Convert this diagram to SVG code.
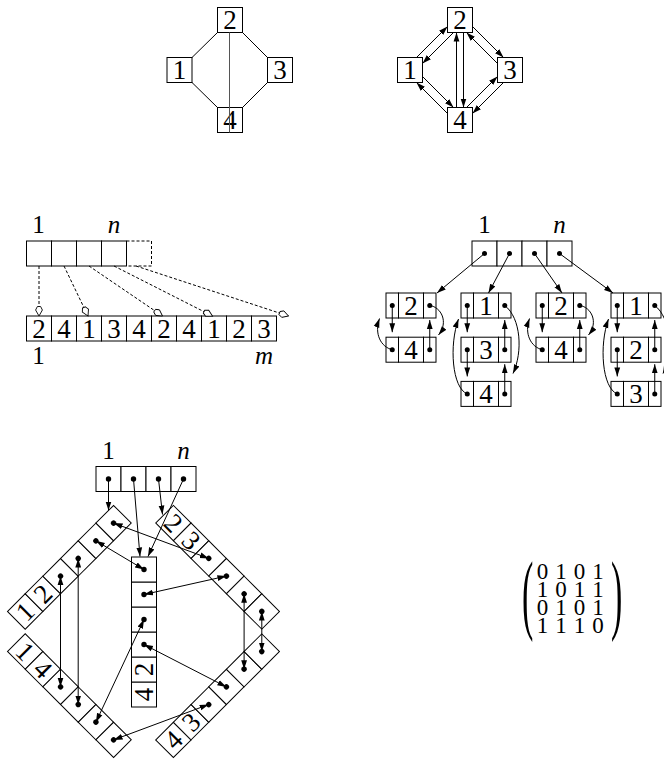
<svg xmlns="http://www.w3.org/2000/svg" xmlns:xlink="http://www.w3.org/1999/xlink" width="664" height="761" viewBox="0 0 664 761">
<style>
.b{fill:#fff;stroke:#000;stroke-width:1}
.t{font-family:"Liberation Serif",serif;font-size:27px;text-anchor:middle;fill:#000}
.lb{font-family:"Liberation Serif",serif;font-size:25px;text-anchor:middle;fill:#000}
.i{font-style:italic}
.l{fill:none;stroke:#000;stroke-width:1}
.a{marker-end:url(#ah)}
.d2{marker-start:url(#ah);marker-end:url(#ah)}
.ds{stroke-dasharray:3 2}
.h{marker-end:url(#ho)}
.p{fill:#000}
.m{font-family:"Liberation Serif",serif;font-size:23px;text-anchor:middle;fill:#000}
.pr{font-family:"Liberation Serif",serif;font-size:34px;fill:#000}
</style>
<defs>
<marker id="ah" markerUnits="userSpaceOnUse" viewBox="0 -3.5 9.5 7" markerWidth="9.5" markerHeight="7" refX="9" refY="0" orient="auto-start-reverse"><path d="M0,-2.9 L9,0 L0,2.9 Z" fill="#000"/></marker>
<marker id="ho" markerUnits="userSpaceOnUse" viewBox="-1 -4.5 12 9" markerWidth="12" markerHeight="9" refX="9.5" refY="0" orient="auto"><path d="M0,-1.6 L3.5,-3.4 L9.5,0 L3.5,3.4 L0,1.6 Z" fill="#fff" stroke="#000" stroke-width="0.9"/></marker>
<g id="strip6">
<rect class="b" x="0" y="0" width="25" height="25"/><rect class="b" x="25" y="0" width="25" height="25"/><rect class="b" x="50" y="0" width="25" height="25"/><rect class="b" x="75" y="0" width="25" height="25"/><rect class="b" x="100" y="0" width="25" height="25"/><rect class="b" x="125" y="0" width="25" height="25"/>
<circle class="p" cx="62.5" cy="12.5" r="2.7"/><circle class="p" cx="87.5" cy="12.5" r="2.7"/><circle class="p" cx="112.5" cy="12.5" r="2.7"/><circle class="p" cx="137.5" cy="12.5" r="2.7"/>
</g>
<g id="lnode">
<rect class="b" x="0" y="0" width="12.5" height="25"/><rect class="b" x="12.5" y="0" width="25" height="25"/><rect class="b" x="37.5" y="0" width="12.5" height="25"/>
<circle class="p" cx="6.25" cy="12.5" r="2.5"/><circle class="p" cx="43.75" cy="12.5" r="2.5"/>
</g>
</defs>

<!-- Undirected graph -->
<g id="ug-n1"><rect class="b" x="167" y="57.5" width="25" height="25"/><text class="t" x="179.5" y="79">1</text></g>
<g id="ug-n2"><rect class="b" x="217.5" y="7.5" width="25" height="25"/><text class="t" x="230" y="29">2</text></g>
<g id="ug-n3"><rect class="b" x="267.5" y="57.5" width="25" height="25"/><text class="t" x="280" y="79">3</text></g>
<g id="ug-n4"><rect class="b" x="217.5" y="107.5" width="25" height="25"/><text class="t" x="230" y="129">4</text></g>

<!-- Directed graph -->
<g id="dg-n1"><rect class="b" x="397.5" y="57.5" width="25" height="25"/><text class="t" x="410" y="79">1</text></g>
<g id="dg-n2"><rect class="b" x="447.5" y="7.5" width="25" height="25"/><text class="t" x="460" y="29">2</text></g>
<g id="dg-n3"><rect class="b" x="497.5" y="57.5" width="25" height="25"/><text class="t" x="510" y="79">3</text></g>
<g id="dg-n4"><rect class="b" x="447.5" y="107.5" width="25" height="25"/><text class="t" x="460" y="129">4</text></g>

<!-- Adjacency array -->
<g id="aa-index">
<rect class="b" x="26.5" y="241" width="25" height="25"/><rect class="b" x="51.5" y="241" width="25" height="25"/><rect class="b" x="76.5" y="241" width="25" height="25"/><rect class="b" x="101.5" y="241" width="25" height="25"/>
<path class="l ds" d="M126.5,241 H151.5 V266 H126.5"/>
<text class="lb" x="38.5" y="233">1</text><text class="lb i" x="114" y="233">n</text>
</g>
<g id="aa-list">
<rect class="b" x="26.5" y="316" width="25" height="25"/><rect class="b" x="51.5" y="316" width="25" height="25"/><rect class="b" x="76.5" y="316" width="25" height="25"/><rect class="b" x="101.5" y="316" width="25" height="25"/><rect class="b" x="126.5" y="316" width="25" height="25"/><rect class="b" x="151.5" y="316" width="25" height="25"/><rect class="b" x="176.5" y="316" width="25" height="25"/><rect class="b" x="201.5" y="316" width="25" height="25"/><rect class="b" x="226.5" y="316" width="25" height="25"/><rect class="b" x="251.5" y="316" width="25" height="25"/>
<text class="t" x="39" y="337.5">2</text><text class="t" x="64" y="337.5">4</text><text class="t" x="89" y="337.5">1</text><text class="t" x="114" y="337.5">3</text><text class="t" x="139" y="337.5">4</text><text class="t" x="164" y="337.5">2</text><text class="t" x="189" y="337.5">4</text><text class="t" x="214" y="337.5">1</text><text class="t" x="239" y="337.5">2</text><text class="t" x="264" y="337.5">3</text>
<text class="lb" x="38.5" y="364">1</text><text class="lb i" x="264" y="364">m</text>
</g>

<!-- Adjacency lists -->
<g id="al-index">
<rect class="b" x="472" y="241" width="25" height="25"/><rect class="b" x="497" y="241" width="25" height="25"/><rect class="b" x="522" y="241" width="25" height="25"/><rect class="b" x="547" y="241" width="25" height="25"/>
<circle class="p" cx="484.5" cy="253.5" r="2.5"/><circle class="p" cx="509.5" cy="253.5" r="2.5"/><circle class="p" cx="534.5" cy="253.5" r="2.5"/><circle class="p" cx="559.5" cy="253.5" r="2.5"/>
<text class="lb" x="484.5" y="233">1</text><text class="lb i" x="559.5" y="233">n</text>
</g>
<g id="al-1a"><use xlink:href="#lnode" x="386" y="293"/><text class="t" x="411" y="314.5">2</text></g>
<g id="al-1b"><use xlink:href="#lnode" x="386" y="337.2"/><text class="t" x="411" y="358.7">4</text></g>
<g id="al-2a"><use xlink:href="#lnode" x="461" y="293"/><text class="t" x="486" y="314.5">1</text></g>
<g id="al-2b"><use xlink:href="#lnode" x="461" y="337.2"/><text class="t" x="486" y="358.7">3</text></g>
<g id="al-2c"><use xlink:href="#lnode" x="461" y="381.4"/><text class="t" x="486" y="402.9">4</text></g>
<g id="al-3a"><use xlink:href="#lnode" x="536" y="293"/><text class="t" x="561" y="314.5">2</text></g>
<g id="al-3b"><use xlink:href="#lnode" x="536" y="337.2"/><text class="t" x="561" y="358.7">4</text></g>
<g id="al-4a"><use xlink:href="#lnode" x="611" y="293"/><text class="t" x="636" y="314.5">1</text></g>
<g id="al-4b"><use xlink:href="#lnode" x="611" y="337.2"/><text class="t" x="636" y="358.7">2</text></g>
<g id="al-4c"><use xlink:href="#lnode" x="611" y="381.4"/><text class="t" x="636" y="402.9">3</text></g>

<!-- Edge structure -->
<g id="es-index">
<rect class="b" x="96" y="466.5" width="25" height="25"/><rect class="b" x="121" y="466.5" width="25" height="25"/><rect class="b" x="146" y="466.5" width="25" height="25"/><rect class="b" x="171" y="466.5" width="25" height="25"/>
<circle class="p" cx="108.5" cy="479" r="2.7"/><circle class="p" cx="133.5" cy="479" r="2.7"/><circle class="p" cx="158.5" cy="479" r="2.7"/><circle class="p" cx="183.5" cy="479" r="2.7"/>
<text class="lb" x="108.5" y="458.5">1</text><text class="lb i" x="183.5" y="458.5">n</text>
</g>
<g id="es-e12" transform="translate(7.5,611.5) rotate(-45)"><use xlink:href="#strip6"/><text class="t" x="12.5" y="21.5">1</text><text class="t" x="37.5" y="21.5">2</text></g>
<g id="es-e23" transform="translate(173.4,505.4) rotate(45)"><use xlink:href="#strip6"/><text class="t" x="12.5" y="21.5">2</text><text class="t" x="37.5" y="21.5">3</text></g>
<g id="es-e14" transform="translate(25.2,633.8) rotate(45)"><use xlink:href="#strip6"/><text class="t" x="12.5" y="21.5">1</text><text class="t" x="37.5" y="21.5">4</text></g>
<g id="es-e43" transform="translate(155.7,739.9) rotate(-45)"><use xlink:href="#strip6"/><text class="t" x="12.5" y="21.5">4</text><text class="t" x="37.5" y="21.5">3</text></g>
<g id="es-e42" transform="translate(131.5,707) rotate(-90)"><use xlink:href="#strip6"/><text class="t" x="12.5" y="21.5">4</text><text class="t" x="37.5" y="21.5">2</text></g>

<!-- Matrix -->
<g id="matrix">
<text class="pr" transform="translate(522,622.5) scale(1,2.6)">(</text>
<text class="pr" transform="translate(611,622.5) scale(1,2.6)">)</text>
<text class="m"><tspan x="542.5 561 579.5 598" y="578.5">0101</tspan><tspan x="542.5 561 579.5 598" y="596.8">1011</tspan><tspan x="542.5 561 579.5 598" y="615.1">0101</tspan><tspan x="542.5 561 579.5 598" y="633.4">1110</tspan></text>
</g>

<!-- Connectors -->
<g id="connectors">
<g id="ug-edges" class="l">
<line x1="192" y1="57.5" x2="217.5" y2="32.5"/>
<line x1="242.5" y1="32.5" x2="267.5" y2="57.5"/>
<line x1="192" y1="82.5" x2="217.5" y2="107.5"/>
<line x1="267.5" y1="82.5" x2="242.5" y2="107.5"/>
<line x1="229.5" y1="32.5" x2="229.5" y2="132.5" stroke="#555"/>
</g>
<g id="dg-edges">
<line class="l a" x1="416.5" y1="57.5" x2="447.5" y2="26.5"/>
<line class="l a" x1="453.5" y1="32.5" x2="422.5" y2="63.5"/>
<line class="l a" x1="472.5" y1="26.5" x2="503.5" y2="57.5"/>
<line class="l a" x1="497.5" y1="63.5" x2="466.5" y2="32.5"/>
<line class="l a" x1="503.5" y1="82.5" x2="472.5" y2="113.5"/>
<line class="l a" x1="466.5" y1="107.5" x2="497.5" y2="76.5"/>
<line class="l a" x1="447.5" y1="113.5" x2="416.5" y2="82.5"/>
<line class="l a" x1="422.5" y1="76.5" x2="453.5" y2="107.5"/>
<line class="l a" x1="456.5" y1="107.5" x2="456.5" y2="32.5"/>
<line class="l a" x1="463.5" y1="32.5" x2="463.5" y2="107.5"/>
</g>
<g id="aa-pointers">
<line class="l ds h" x1="39" y1="266" x2="39" y2="316"/>
<line class="l ds h" x1="64" y1="266" x2="88" y2="316"/>
<line class="l ds h" x1="89" y1="266" x2="162.5" y2="316"/>
<line class="l ds h" x1="114" y1="266" x2="212.5" y2="316"/>
<line class="l ds h" x1="136" y1="266" x2="288.5" y2="316"/>
</g>
<g id="al-pointers">
<line class="l a" x1="484.5" y1="253.5" x2="437" y2="293"/>
<line class="l a" x1="509.5" y1="253.5" x2="488.5" y2="293"/>
<line class="l a" x1="534.5" y1="253.5" x2="562" y2="293"/>
<line class="l a" x1="559.5" y1="253.5" x2="613" y2="293"/>
<line class="l a" x1="392.25" y1="305.5" x2="392.25" y2="332.2"/>
<line class="l a" x1="429.75" y1="349.7" x2="429.75" y2="320"/>
<path class="l a" d="M392.25,349.7 C381,347 374,334 379.5,318.5"/>
<path class="l a" d="M429.75,305.5 C441,307 449,322 438.5,335"/>
<line class="l a" x1="467.25" y1="305.5" x2="467.25" y2="332.2"/>
<line class="l a" x1="467.25" y1="349.7" x2="467.25" y2="376.4"/>
<line class="l a" x1="504.75" y1="349.7" x2="504.75" y2="320"/>
<line class="l a" x1="504.75" y1="393.9" x2="504.75" y2="364.2"/>
<path class="l a" d="M467.25,393.9 C452,388 449,345 458.5,319"/>
<path class="l a" d="M504.75,305.5 C521,318 523,352 513,373.5"/>
<line class="l a" x1="542.25" y1="305.5" x2="542.25" y2="332.2"/>
<line class="l a" x1="579.75" y1="349.7" x2="579.75" y2="320"/>
<path class="l a" d="M542.25,349.7 C531,347 524,334 529.5,318.5"/>
<path class="l a" d="M579.75,305.5 C591,307 599,322 588.5,335"/>
<line class="l a" x1="617.25" y1="305.5" x2="617.25" y2="332.2"/>
<line class="l a" x1="617.25" y1="349.7" x2="617.25" y2="376.4"/>
<line class="l a" x1="654.75" y1="349.7" x2="654.75" y2="320"/>
<line class="l a" x1="654.75" y1="393.9" x2="654.75" y2="364.2"/>
<path class="l a" d="M617.25,393.9 C602,388 599,345 608.5,319"/>
<path class="l a" d="M654.75,305.5 C671,318 673,352 663,373.5"/>
</g>
<g id="es-pointers">
<line class="l a" x1="108.5" y1="479" x2="108.5" y2="510.5"/>
<line class="l a" x1="133.5" y1="479" x2="140" y2="556.5"/>
<line class="l a" x1="158.5" y1="479" x2="162.5" y2="514.5"/>
<line class="l a" x1="183.5" y1="479" x2="148" y2="556.5"/>
<line class="l d2" x1="60.5" y1="576.1" x2="60.5" y2="686.8"/>
<line class="l d2" x1="78.2" y1="558.5" x2="78.2" y2="704.5"/>
<line class="l d2" x1="95.9" y1="540.8" x2="144" y2="569.5"/>
<line class="l d2" x1="113.6" y1="523.1" x2="208.8" y2="558.4"/>
<line class="l d2" x1="226.4" y1="576.1" x2="144" y2="594.5"/>
<line class="l d2" x1="244.1" y1="593.8" x2="244.1" y2="669.2"/>
<line class="l d2" x1="261.8" y1="611.5" x2="261.8" y2="651.5"/>
<line class="l d2" x1="95.9" y1="722.2" x2="144" y2="619.5"/>
<line class="l d2" x1="113.6" y1="739.9" x2="208.7" y2="704.5"/>
<line class="l d2" x1="226.4" y1="686.9" x2="144" y2="644.5"/>
</g>
</g>
</svg>
